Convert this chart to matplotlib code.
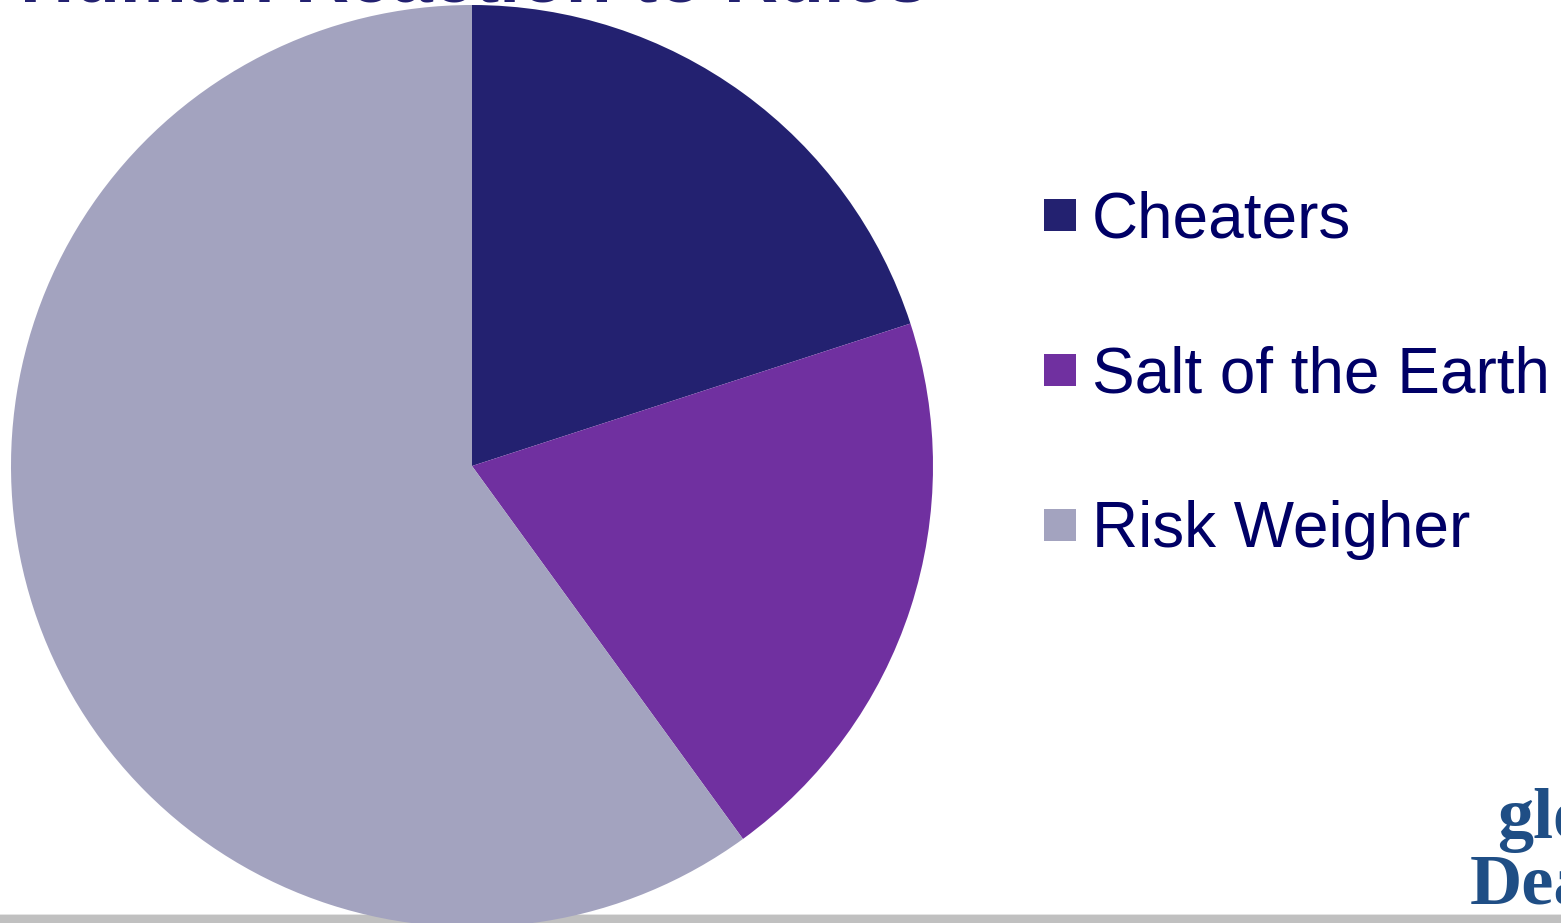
import matplotlib
matplotlib.use("Agg")
import matplotlib.pyplot as plt
from matplotlib.patches import Rectangle

plt.rcParams['font.family'] = ['Liberation Sans', 'DejaVu Sans']

# data
categories = ['Cheaters', 'Salt of the Earth', 'Risk Weigher']
shares = [20, 20, 60]
colors = ['#232170', '#7030A0', '#A3A3BF']
title = 'Human Reaction to Rules'

W, H = 1561, 923
fig = plt.figure(figsize=(W / 100, H / 100), dpi=100)
fig.patch.set_facecolor('white')

# grey footer bar behind everything
fig.patches.append(Rectangle((0, 0), 1, 8 / H, transform=fig.transFigure,
                             facecolor='#C0C0C0', edgecolor='none', zorder=0))
fig.patches.append(Rectangle((0, 8 / H), 1, 1.5 / H, transform=fig.transFigure,
                             facecolor='#E4E4E4', edgecolor='none', zorder=0))

# pie, radius ~461px centred at (472, 466)
ax = fig.add_axes([11 / W, -4 / H, 922 / W, 922 / H], zorder=2)
ax.patch.set_alpha(0)
ax.pie(shares, colors=colors, startangle=90, counterclock=False,
       radius=1, wedgeprops=dict(linewidth=0))
ax.set_xlim(-1, 1)
ax.set_ylim(-1, 1)
ax.set_aspect('equal')
ax.axis('off')

# legend
for i, (cat, col) in enumerate(zip(categories, colors)):
    yc = 215 + i * 155
    fig.patches.append(Rectangle((1044 / W, (H - yc - 16) / H), 32 / W, 32 / H,
                                 transform=fig.transFigure, facecolor=col,
                                 edgecolor='none'))
    fig.text(1092 / W, (H - yc + 1) / H, cat, fontsize=46, color='#000066',
             va='center_baseline', ha='left')

# title, mostly cut off at the top
fig.text(20 / W, (H - 1) / H, title, fontsize=54, fontweight='bold',
         color='#232170', ha='left', va='baseline', zorder=1)

# logo fragments at the right edge
fig.text(1497 / W, (H - 838) / H, 'gle', fontsize=52, fontweight='bold',
         family='Liberation Serif', color='#1F4E85', ha='left', va='baseline')
fig.text(1470 / W, (H - 903) / H, 'Dea', fontsize=52, fontweight='bold',
         family='Liberation Serif', color='#1F4E85', ha='left', va='baseline')

fig.savefig('out.png', dpi=100)
